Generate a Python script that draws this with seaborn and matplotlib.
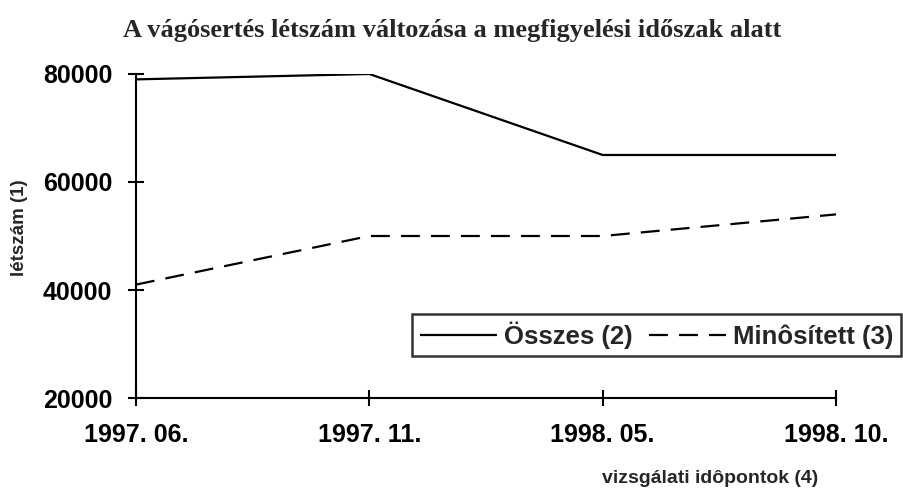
import pandas as pd
import matplotlib.pyplot as plt
import seaborn as sns
sns.set_style(style='ticks')
plt.rcParams['font.family'] = ['Liberation Sans', 'DejaVu Sans']

dates = ['1997. 06.', '1997. 11.', '1998. 05.', '1998. 10.']
osszes = [79000, 80000, 65000, 65000]
minositett = [41000, 50000, 50000, 54000]
series_names = ['Összes (2)', 'Minôsített (3)']

df = pd.DataFrame({
    'pos': list(range(len(dates))) * 2,
    'value': osszes + minositett,
    'series': [series_names[0]] * len(dates) + [series_names[1]] * len(dates),
})

fig = plt.figure(figsize=(9.04, 4.88), dpi=100)
ax = fig.add_axes([0.1504, 0.1844, 0.7744, 0.664])

sns.lineplot(data=df, x='pos', y='value', hue='series', style='series',
             palette=['black', 'black'], dashes=[(1, 0), (8.5, 5)],
             linewidth=1.6, ax=ax, legend=False)

ax.set_xlim(0, len(dates) - 1)
ax.set_ylim(20000, 80000)
ax.set_xticks(range(len(dates)))
ax.set_xticklabels(dates, fontsize=18, fontweight='bold')
ax.set_yticks([20000, 40000, 60000, 80000])
ax.set_yticklabels(['20000', '40000', '60000', '80000'], fontsize=18, fontweight='bold')
ax.tick_params(axis='both', direction='inout', length=12, width=1.5, colors='black')
ax.tick_params(axis='x', pad=12)
ax.tick_params(axis='y', pad=11)
for s in ['top', 'right']:
    ax.spines[s].set_visible(False)
for s in ['left', 'bottom']:
    ax.spines[s].set_linewidth(1.5)
    ax.spines[s].set_color('black')

ax.set_xlabel('')
ax.set_ylabel('')
fig.text(20 / 904, 1 - 228 / 488, 'létszám (1)', rotation=90, ha='center', va='center',
         fontsize=13.5, fontweight='bold')
fig.text(602 / 904, 1 - 483 / 488, 'vizsgálati idôpontok (4)', ha='left', va='baseline',
         fontsize=14, fontweight='bold')
fig.text(0.5, 1 - 37 / 488, 'A vágósertés létszám változása a megfigyelési időszak alatt',
         ha='center', va='baseline', fontsize=19, fontweight='bold',
         family=['Liberation Serif', 'DejaVu Serif'])

handles = ax.get_lines()[:2]
leg = fig.legend(handles, series_names, loc='center left',
                 bbox_to_anchor=(412 / 904, 1 - 335 / 488), ncol=2, frameon=True,
                 fancybox=False, edgecolor='black', handlelength=3.0,
                 handletextpad=0.3, columnspacing=0.6, borderpad=0.3,
                 borderaxespad=0, prop={'size': 18.5, 'weight': 'bold'})
leg.get_frame().set_linewidth(1.8)

fig.savefig('out.png', dpi=100)
